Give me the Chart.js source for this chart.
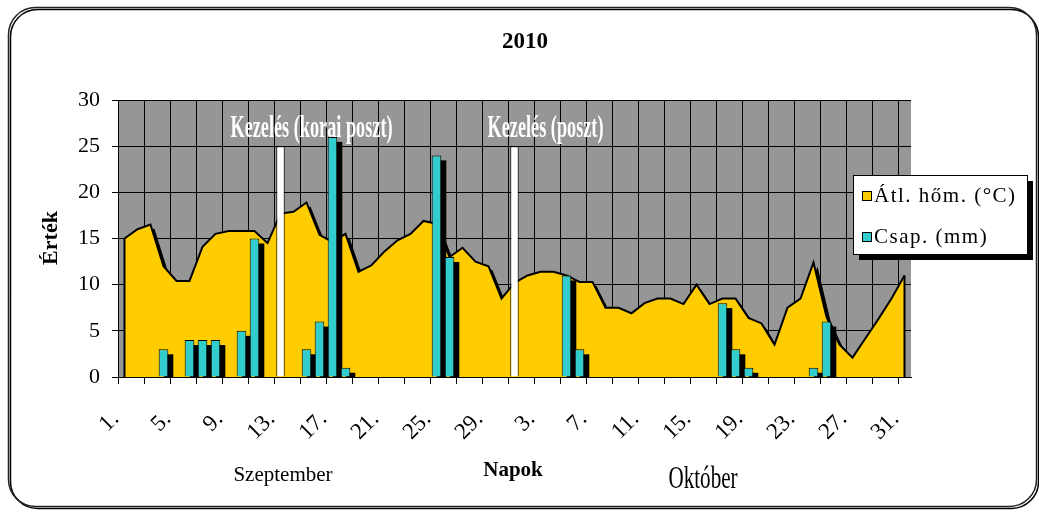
<!DOCTYPE html>
<html>
<head>
<meta charset="utf-8">
<script src="https://cdn.jsdelivr.net/npm/chart.js@4"></script>
<style>
body { margin: 0; background: #fff; }
#wrap { width: 1039px; height: 513px; }
</style>
</head>
<body>
<div id="wrap"><canvas id="c"></canvas></div>
<script>
// napok: szeptember 1-30, oktober 1-31
const labels = ['1.','2.','3.','4.','5.','6.','7.','8.','9.','10.','11.','12.','13.','14.','15.',
  '16.','17.','18.','19.','20.','21.','22.','23.','24.','25.','26.','27.','28.','29.','30.',
  '1.','2.','3.','4.','5.','6.','7.','8.','9.','10.','11.','12.','13.','14.','15.','16.',
  '17.','18.','19.','20.','21.','22.','23.','24.','25.','26.','27.','28.','29.','30.','31.'];

const homerseklet = [15, 16, 16.5, 12, 10.4, 10.4, 14.1, 15.5, 15.8, 15.8,
  15.8, 14.5, 17.7, 17.9, 18.9, 15.4, 14.6, 15.5, 11.4, 12.1,
  13.6, 14.8, 15.5, 16.9, 16.6, 13, 14, 12.5, 12, 8.5,
  10.2, 11, 11.4, 11.4, 11, 10.3, 10.3, 7.5, 7.5, 6.9,
  8, 8.5, 8.5, 7.9, 10, 7.9, 8.5, 8.5, 6.4, 5.8,
  3.5, 7.5, 8.5, 12.4, 6.5, 3.5, 2.1, 4.2, 6.3, 8.5, 11];

const csapadek = [null, null, null, 3, null, 4, 4, 4, null, 5,
  15, null, null, null, 3, 6, 26, 1, null, null,
  null, null, null, null, 24, 13, null, null, null, null,
  null, null, null, null, 11, 3, null, null, null, null,
  null, null, null, null, null, null, 8, 3, 1, null,
  null, null, null, 1, 6, null, null, null, null, null, null];

const kezeles = labels.map(() => null);
kezeles[12] = 25;
kezeles[30] = 25;
const kezelesText = {12: 'Kezelés (korai poszt)', 30: 'Kezelés (poszt)'};

const yTicks = [0, 5, 10, 15, 20, 25, 30];

const serif = '"Liberation Serif", "Times New Roman", serif';
Chart.defaults.font.family = serif;
Chart.defaults.color = '#000';

function condText(c, txt, x, y, font, sx) {
  c.save();
  c.font = font;
  c.translate(x, y);
  c.scale(sx, 1);
  c.textAlign = 'center';
  c.fillText(txt, 0, 0);
  c.restore();
}

const extras = {
  id: 'extras',
  beforeDraw(chart) {
    const c = chart.ctx, a = chart.chartArea;
    c.save();
    c.fillStyle = '#fff';
    c.fillRect(0, 0, chart.width, chart.height);
    c.fillStyle = '#969696';
    c.fillRect(a.left, a.top, a.right - a.left, a.bottom - a.top);
    c.restore();
  },
  beforeDatasetsDraw(chart) {
    // a kitoltes (filler) arnyekot kap, a vonal nem
    const c = chart.ctx;
    c.save();
    c.shadowColor = '#000';
    c.shadowBlur = 0;
    c.shadowOffsetX = 4;
    c.shadowOffsetY = 4;
  },
  beforeDatasetDraw(chart, args) {
    const c = chart.ctx, a = chart.chartArea;
    c.shadowColor = 'rgba(0,0,0,0)';
    c.shadowOffsetX = 0;
    c.shadowOffsetY = 0;
    const ds = chart.data.datasets[args.index];
    if (!ds.shadow) return;
    c.save();
    c.beginPath();
    c.rect(a.left, a.top, a.right - a.left, a.bottom - a.top);
    c.clip();
    c.fillStyle = '#000';
    args.meta.data.forEach((el, j) => {
      if (ds.data[j] == null) return;
      c.fillRect(el.x - el.width / 2 + ds.shadow, el.y + ds.shadow, el.width, el.base - el.y);
    });
    c.restore();
  },
  afterDatasetDraw(chart, args) {
    if (args.index !== 0) return;
    // area bal es jobb szele
    const c = chart.ctx;
    const pts = args.meta.data;
    const y0 = chart.scales.y.getPixelForValue(0);
    c.save();
    c.strokeStyle = '#000';
    c.lineWidth = 2;
    c.beginPath();
    c.moveTo(pts[0].x, pts[0].y);
    c.lineTo(pts[0].x, y0);
    const l = pts[pts.length - 1];
    c.moveTo(l.x, l.y);
    c.lineTo(l.x, y0);
    c.stroke();
    c.restore();
  },
  afterDatasetsDraw(chart) {
    chart.ctx.restore();
  },
  afterDraw(chart) {
    const c = chart.ctx;
    const y = chart.scales.y;
    c.save();
    c.fillStyle = '#000';
    c.textAlign = 'center';
    c.textBaseline = 'alphabetic';

    c.font = 'bold 23px ' + serif;
    c.fillText('2010', 525, 48);

    c.save();
    c.translate(57, 238);
    c.rotate(-Math.PI / 2);
    c.font = 'bold 22px ' + serif;
    c.fillText('Érték', 0, 0);
    c.restore();

    c.font = 'bold 21px ' + serif;
    c.fillText('Napok', 513, 476);
    c.font = '21px ' + serif;
    c.fillText('Szeptember', 283, 481);
    condText(c, 'Október', 703, 488, '32px ' + serif, 0.66);

    // kezeles feliratok
    c.fillStyle = '#fff';
    const km = chart.getDatasetMeta(2);
    Object.keys(kezelesText).forEach(k => {
      const bar = km.data[k];
      condText(c, kezelesText[k], bar.x + 31, y.getPixelForValue(kezeles[k]) - 9,
        'bold 32px ' + serif, 0.57);
    });

    // jelmagyarazat
    const lx = 853, ly = 175, lw = 174, lh = 79;
    c.fillStyle = '#000';
    c.fillRect(lx + 6, ly + 6, lw, lh);
    c.fillStyle = '#fff';
    c.fillRect(lx, ly, lw, lh);
    c.strokeStyle = '#000';
    c.lineWidth = 1;
    c.strokeRect(lx + 0.5, ly + 0.5, lw, lh);
    c.font = '21px ' + serif;
    c.textAlign = 'left';
    c.letterSpacing = '1.5px';
    [[0, 192, 202], [1, 233, 243]].forEach(([i, sy, ty]) => {
      const ds = chart.data.datasets[i];
      c.fillStyle = ds.backgroundColor;
      c.fillRect(863, sy, 8, 8);
      c.strokeRect(862.5, sy - 0.5, 9, 9);
      c.fillStyle = '#000';
      c.fillText(ds.label, 874, ty);
    });
    c.letterSpacing = '0px';

    // keret
    c.strokeStyle = '#222';
    c.lineWidth = 1.5;
    c.shadowColor = '#000';
    c.shadowOffsetX = 2;
    c.shadowOffsetY = 2;
    c.beginPath();
    c.roundRect(8.5, 7.5, 1028, 499, 27);
    c.stroke();
    c.restore();
  }
};

const gridColor = ctx => ctx.index % 2 === 0 ? '#000' : 'rgba(0,0,0,0)';

new Chart(document.getElementById('c'), {
  data: {
    labels: labels,
    datasets: [{
      type: 'line',
      label: 'Átl. hőm. (°C)',
      data: homerseklet,
      backgroundColor: '#FFCC00',
      borderColor: '#000',
      borderWidth: 2,
      fill: 'origin',
      pointRadius: 0,
      tension: 0,
      order: 3
    }, {
      type: 'bar',
      label: 'Csap. (mm)',
      data: csapadek,
      backgroundColor: '#33CCCC',
      borderColor: '#000',
      borderWidth: 1,
      barPercentage: 0.74,
      categoryPercentage: 1,
      grouped: false,
      order: 1,
      shadow: 5
    }, {
      type: 'bar',
      label: 'Kezelés',
      data: kezeles,
      backgroundColor: '#fff',
      borderColor: '#000',
      borderWidth: 1,
      barPercentage: 0.65,
      categoryPercentage: 1,
      grouped: false,
      order: 2
    }]
  },
  options: {
    responsive: true,
    maintainAspectRatio: false,
    animation: false,
    layout: { padding: { left: 0, right: 128, top: 100, bottom: 0 } },
    plugins: {
      legend: { display: false },
      title: { display: false },
      tooltip: { enabled: false }
    },
    scales: {
      x: {
        offset: true,
        grid: { offset: true, color: gridColor, tickColor: gridColor, tickLength: 7, lineWidth: 1 },
        border: { color: '#000', width: 1 },
        ticks: {
          autoSkip: false,
          minRotation: 45,
          maxRotation: 45,
          padding: 22,
          labelOffset: -9,
          font: { size: 23 },
          callback: (v, i) => i % 4 === 0 ? labels[i] : ''
        },
        afterFit: s => { s.height = 136; }
      },
      y: {
        min: 0,
        max: 30,
        afterBuildTicks: s => { s.ticks = yTicks.map(v => ({ value: v })); },
        ticks: { padding: 12, font: { size: 22 } },
        grid: { color: '#000', tickLength: 6 },
        border: { color: '#000' },
        afterFit: s => { s.width = 118; }
      }
    }
  },
  plugins: [extras]
});
</script>
</body>
</html>
